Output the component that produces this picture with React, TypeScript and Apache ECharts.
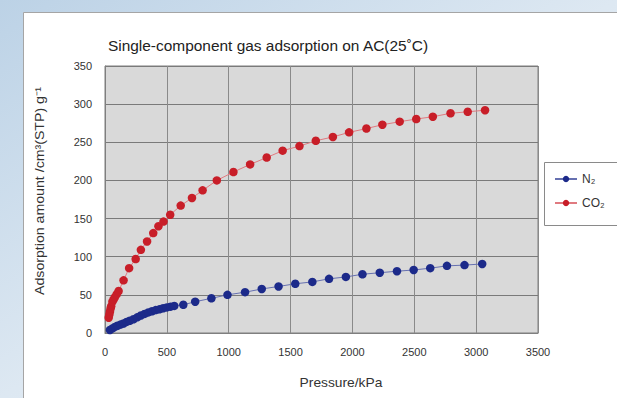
import React, { useEffect, useRef } from "react";
import * as echarts from "echarts";

const xTicks = [0, 500, 1000, 1500, 2000, 2500, 3000, 3500];
const yTicks = [0, 50, 100, 150, 200, 250, 300, 350];

const n2Pressure = [40, 60, 80, 100, 125, 150, 175, 200, 230, 260, 290, 320, 350, 380, 410, 440, 470, 500, 530, 560, 633, 729, 860, 990, 1132, 1267, 1403, 1538, 1676, 1811, 1947, 2081, 2221, 2360, 2495, 2629, 2764, 2906, 3049];
const n2Amount = [4, 6, 8, 9.5, 11, 12.5, 14.5, 16, 18, 20.5, 23, 25, 27, 28.5, 30, 31, 32.5, 33.5, 34.5, 35.5, 37, 41, 45.5, 50, 53.5, 57.7, 61, 64.5, 67, 71, 73.5, 77, 79, 81, 82.6, 85, 88, 89, 90.5];

const co2Pressure = [30, 35, 40, 45, 50, 60, 70, 80, 95, 110, 150, 195, 248, 290, 340, 390, 432, 473, 527, 612, 703, 789, 904, 1038, 1173, 1307, 1436, 1572, 1704, 1842, 1973, 2113, 2242, 2382, 2516, 2650, 2793, 2932, 3072];
const co2Amount = [20, 24, 28, 32, 35, 41, 44, 47, 51, 55, 69, 85, 97, 109, 120, 131, 140, 146, 155, 167, 177, 187, 200, 211, 221, 230, 239, 245, 252, 257, 263, 268, 273, 277, 280.5, 283.5, 288, 290, 292];

const seriesNames = ["N\u2082", "CO\u2082"];
const titleText = "Single-component gas adsorption on AC(25\u02DAC)";
const yName = "Adsorption amount /cm\u00B3(STP) g\u207B\u00B9";
const xName = "Pressure/kPa";

const FONT = "Liberation Sans, Arial, sans-serif";

export default function App() {
  const ref = useRef<HTMLDivElement>(null);
  useEffect(() => {
    if (!ref.current) return;
    const chart = echarts.init(ref.current, undefined, { renderer: "svg" });
    const zip = (xs: number[], ys: number[]) => xs.map((x, i) => [x, ys[i]]);
    chart.setOption({
      animation: false,
      backgroundColor: {
        type: "linear", x: 0, y: 0, x2: 1, y2: 1,
        colorStops: [
          { offset: 0, color: "#bcd2e6" },
          { offset: 0.5, color: "#dde8f2" },
          { offset: 1, color: "#eef3f8" },
        ],
      },
      textStyle: { fontFamily: FONT },
      graphic: [
        {
          type: "rect", z: -10, silent: true,
          shape: { x: 23.5, y: 12.5, width: 620, height: 400 },
          style: { fill: "#ffffff", stroke: "#a5a5a5", lineWidth: 1 },
        },
        {
          type: "rect", z: 10, silent: true,
          shape: { x: 544.5, y: 162.5, width: 90, height: 63 },
          style: { fill: "#ffffff", stroke: "#8a8a8a", lineWidth: 1 },
        },
        {
          type: "text", z: 10, x: 268, y: 46, scaleX: 1.03,
          style: { text: titleText, fontSize: 15, fill: "#222", align: "center", verticalAlign: "middle", fontFamily: FONT },
        },
        {
          type: "text", z: 10, x: 40, y: 191, rotation: Math.PI / 2, scaleX: 1.18,
          style: { text: yName, fontSize: 12, fill: "#333", align: "center", verticalAlign: "middle", fontFamily: FONT },
        },
        {
          type: "text", z: 10, x: 341, y: 383, scaleX: 1.15,
          style: { text: xName, fontSize: 12, fill: "#333", align: "center", verticalAlign: "middle", fontFamily: FONT },
        },
      ],
      grid: {
        left: 105, top: 66, width: 433, height: 267,
        show: true, backgroundColor: "#d9d9d9", borderColor: "#7f7f7f", borderWidth: 1,
      },
      legend: {
        orient: "vertical", left: 549, top: 168, itemGap: 12,
        itemWidth: 22, itemHeight: 8, z: 20,
        textStyle: { fontSize: 12, color: "#333", fontFamily: FONT },
        data: seriesNames,
      },
      xAxis: {
        type: "value", min: xTicks[0], max: xTicks[xTicks.length - 1], interval: 500,
        axisLine: { show: true, lineStyle: { color: "#7f7f7f" } },
        axisTick: { show: false },
        axisLabel: { fontSize: 11, color: "#333", margin: 13, formatter: (v: number) => String(v) },
        splitLine: { show: true, lineStyle: { color: "#8a8a8a", width: 1 } },
      },
      yAxis: {
        type: "value", min: yTicks[0], max: yTicks[yTicks.length - 1], interval: 50,
        axisLine: { show: true, lineStyle: { color: "#7f7f7f" } },
        axisTick: { show: false },
        axisLabel: { fontSize: 11, color: "#333", margin: 13, formatter: (v: number) => String(v) },
        splitLine: { show: true, lineStyle: { color: "#7a7a7a", width: 1 } },
      },
      series: [
        {
          name: seriesNames[0], type: "line", data: zip(n2Pressure, n2Amount),
          symbol: "circle", symbolSize: 8.5,
          itemStyle: { color: "#1c2a8a" },
          lineStyle: { color: "#6670b0", width: 1 },
        },
        {
          name: seriesNames[1], type: "line", data: zip(co2Pressure, co2Amount),
          symbol: "circle", symbolSize: 8.5,
          itemStyle: { color: "#c81e28" },
          lineStyle: { color: "#e07a80", width: 1 },
        },
      ],
    });
    return () => chart.dispose();
  }, []);
  return <div ref={ref} style={{ position: "fixed", left: 0, top: 0, width: 617, height: 398 }} />;
}
